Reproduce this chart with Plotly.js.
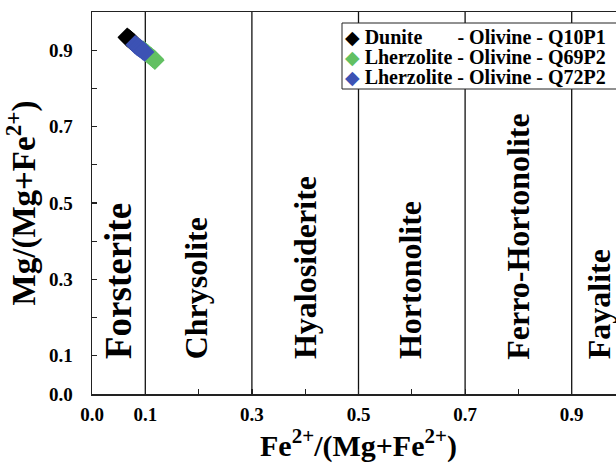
<!DOCTYPE html>
<html>
<head>
<meta charset="utf-8">
<script src="https://cdn.plot.ly/plotly-3.0.1.min.js"></script>
<style>
html, body { margin: 0; padding: 0; overflow: hidden; background: #fff; }
#chart { width: 641px; height: 463px; }
</style>
</head>
<body>
<div id="chart"></div>
<script>
// ---- data ----
const seriesNames = [
  "Dunite\u00a0\u00a0\u00a0\u00a0\u00a0\u00a0 - Olivine - Q10P1",
  "Lherzolite - Olivine - Q69P2",
  "Lherzolite - Olivine - Q72P2"
];
const duniteQ10P1_x = [0.066, 0.068, 0.070, 0.072, 0.074, 0.076, 0.078];
const duniteQ10P1_y = [0.934, 0.931, 0.929, 0.927, 0.925, 0.922, 0.920];
const lherzQ69P2_x = [0.096, 0.099, 0.102, 0.105, 0.108, 0.111, 0.114, 0.117, 0.118];
const lherzQ69P2_y = [0.900, 0.897, 0.893, 0.890, 0.886, 0.883, 0.879, 0.876, 0.874];
const lherzQ72P2_x = [0.081, 0.084, 0.087, 0.090, 0.093, 0.096, 0.099];
const lherzQ72P2_y = [0.914, 0.911, 0.908, 0.905, 0.902, 0.898, 0.895];

const boundaries = [0.1, 0.3, 0.5, 0.7, 0.9];
const regionNames = ["Forsterite", "Chrysolite", "Hyalosiderite", "Hortonolite", "Ferro-Hortonolite", "Fayalite"];
const regionCenters = [0.05, 0.195, 0.40, 0.598, 0.80, 0.951];

const labelVals = [0.0, 0.1, 0.3, 0.5, 0.7, 0.9];
const labelText = ["0.0", "0.1", "0.3", "0.5", "0.7", "0.9"];
const minorVals = [0.2, 0.4, 0.6, 0.8, 1.0];

// ---- style / layout ----
const FONT = "Liberation Serif";
const colors = ["#000000", "#62c062", "#3c52b4"];
const W = 641, H = 463, ML = 92, MR = 16, MT = 12, MB = 69;
const PW = W - ML - MR, PH = H - MT - MB;
const px2x = p => (p - ML) / PW;          // pixel -> paper x
const py2y = p => (H - MB - p) / PH;      // pixel -> paper y

function mk(x, y, name, color) {
  return {
    type: "scatter", mode: "markers", x: x, y: y, name: name,
    marker: { symbol: "diamond", size: 15, color: color, line: { width: 0 } },
    showlegend: false
  };
}
const traces = [
  mk(duniteQ10P1_x, duniteQ10P1_y, seriesNames[0], colors[0]),
  mk(lherzQ69P2_x, lherzQ69P2_y, seriesNames[1], colors[1]),
  mk(lherzQ72P2_x, lherzQ72P2_y, seriesNames[2], colors[2])
];

const shapes = boundaries.map(b => ({
  type: "line", xref: "x", yref: "y", x0: b, x1: b, y0: 0, y1: 1,
  line: { color: "#111", width: 1.3 }, layer: "below"
}));
// legend box
shapes.push({
  type: "rect", xref: "paper", yref: "paper",
  x0: px2x(342), x1: px2x(632), y0: py2y(89), y1: py2y(23),
  fillcolor: "#fff", line: { color: "#222", width: 1 }, layer: "above"
});

const annotations = regionNames.map((n, i) => ({
  text: n, x: regionCenters[i], y: 0.088, xref: "x", yref: "y",
  xanchor: "center", yanchor: "bottom", textangle: -90, showarrow: false,
  borderpad: 0,
  font: { family: FONT, size: i === 0 ? 37 : 32, color: "#000", weight: 700 }
}));
// legend entries (symbol + label in one text per row)
const rowY = [37, 57, 77];
seriesNames.forEach((n, i) => {
  annotations.push({
    text: '<span style="color:' + colors[i] + ';font-family:DejaVu Sans;font-size:19px">\u25C6</span> ' + n,
    xref: "paper", yref: "paper", x: px2x(344), y: py2y(rowY[i]),
    xanchor: "left", yanchor: "middle", showarrow: false, borderpad: 0,
    font: { family: FONT, size: 20, color: "#000", weight: 700 }
  });
});

const axisCommon = {
  range: [0, 1], tickmode: "array", tickvals: labelVals, ticktext: labelText,
  ticks: "inside", ticklen: 5, tickwidth: 1.2, tickcolor: "#222",
  minor: { tickmode: "array", tickvals: minorVals, ticks: "inside", ticklen: 5,
           tickwidth: 1.2, tickcolor: "#222", showgrid: false },
  showline: true, linecolor: "#222", linewidth: 1.5, mirror: true,
  showgrid: false, zeroline: false,
  tickfont: { family: FONT, size: 19, color: "#000", weight: 700 }
};

const layout = {
  width: W, height: H,
  margin: { l: ML, r: MR, t: MT, b: MB },
  paper_bgcolor: "#fff", plot_bgcolor: "#fff",
  font: { family: FONT, color: "#000" },
  showlegend: false,
  xaxis: Object.assign({}, axisCommon, {
    ticklabelstandoff: 3,
    title: { text: "Fe<sup>2+</sup>/(Mg+Fe<sup>2+</sup>)", standoff: 8,
             font: { family: FONT, size: 30, color: "#000", weight: 700 } }
  }),
  yaxis: Object.assign({}, axisCommon, {
    ticklabelstandoff: 14,
    title: { text: "Mg/(Mg+Fe<sup>2+</sup>)", standoff: 5,
             font: { family: FONT, size: 33, color: "#000", weight: 700 } }
  }),
  shapes: shapes,
  annotations: annotations
};

Plotly.newPlot("chart", traces, layout, { displayModeBar: false, staticPlot: true });
</script>
</body>
</html>
